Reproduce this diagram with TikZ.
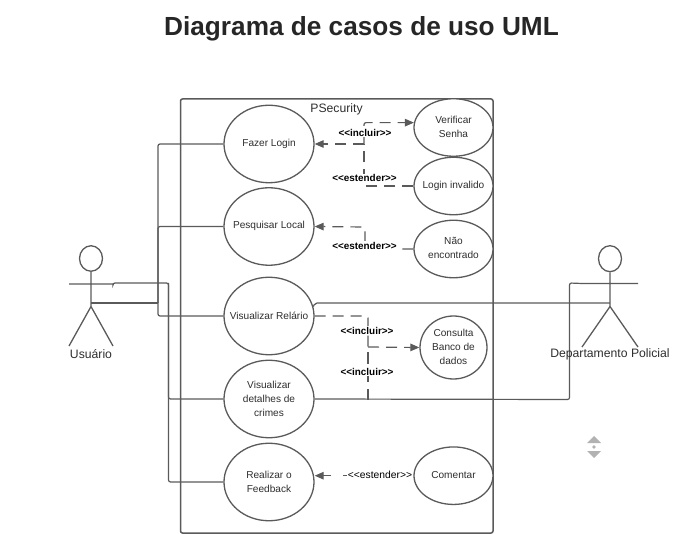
\documentclass[tikz,border=0pt]{standalone}
\usepackage{fontspec}
\setmainfont{Liberation Sans}
\usetikzlibrary{arrows.meta,shapes.geometric}
\definecolor{ln}{HTML}{5A5A5A}
\definecolor{tx}{HTML}{2E2E2E}
\tikzset{
  x=1pt,y=-1pt,
  wire/.style={draw=ln,line width=1.2pt,rounded corners=2pt},
  dep/.style={wire,dash pattern=on 11pt off 7pt},
  tipped/.style={-{Triangle[length=9pt,width=7.5pt,fill=ln]}},
  uc/.style={ellipse,draw=ln,line width=1.3pt,fill=white,inner sep=0pt},
  uctext/.style={inner sep=0pt,align=center,yshift=.6pt,font=\fontsize{10.1}{14}\selectfont,text=tx},
  bigcase/.style={uc,minimum width=90pt,minimum height=77.5pt},
  smallcase/.style={uc,minimum width=79pt,minimum height=57.5pt},
  bancocase/.style={uc,minimum width=67pt,minimum height=63pt},
  stereo/.style={fill=white,inner sep=.6pt,text=black,font=\fontsize{9.9}{11}\selectfont\bfseries},
  lbl/.style={text=tx,inner sep=0pt,font=\fontsize{12.2}{14}\selectfont},
  limb/.style={draw=ln,line width=1.3pt}
}
\newcommand\ucnode[4]{\node[#1] (#2) at #3 {}; \node[uctext] (#2t) at (#2.center) {#4};}
\begin{document}
\begin{tikzpicture}
\useasboundingbox (0,0) rectangle (685,534);
\node[font=\fontsize{26.2}{28}\selectfont\bfseries,text=black!85] (title) at (361.5,28.5) {Diagrama de casos de uso UML};
\draw[draw=ln,line width=1.5pt,rounded corners=2pt] (180.5,99) rectangle (493,533);
\node[lbl] (sys) at (336.5,109.5) {PSecurity};
% actors
\coordinate (lhip) at (91,306.5);
\coordinate (larmL) at (69,284); \coordinate (larmR) at (113,284);
\coordinate (lfootL) at (69,346); \coordinate (lfootR) at (113,346);
\coordinate (lwaist) at (91,303);
\node[ellipse,draw=ln,line width=1.3pt,minimum width=23pt,minimum height=25.5pt,inner sep=0pt] (lhead) at (91,258.5) {};
\draw[limb] (lhead.south) -- (lhip) (larmL) -- (larmR) (lfootL) -- (lhip) -- (lfootR);
\node[lbl] (usuario) at (91,354) {Usuário};
\coordinate (rhip) at (610,306.5);
\coordinate (rarmL) at (582,283.5); \coordinate (rarmR) at (638,283.5);
\coordinate (rfootL) at (582,347); \coordinate (rfootR) at (638,347);
\coordinate (rwaist) at (610,303);
\node[ellipse,draw=ln,line width=1.3pt,minimum width=23pt,minimum height=26pt,inner sep=0pt] (rhead) at (610,258.7) {};
\draw[limb] (rhead.south) -- (rhip) (rarmL) -- (rarmR) (rfootL) -- (rhip) -- (rfootR);
% use cases
\ucnode{bigcase}{fazer}{(269,144)}{Fazer Login}
\ucnode{bigcase}{pesq}{(269,226.5)}{Pesquisar Local}
\ucnode{bigcase}{rel}{(269,316)}{Visualizar Relário}
\ucnode{bigcase}{det}{(269,399)}{Visualizar\\detalhes de\\crimes}
\ucnode{bigcase}{feed}{(269,482)}{Realizar o\\Feedback}
\ucnode{smallcase}{verif}{(453.5,127.5)}{Verificar\\Senha}
\ucnode{smallcase}{inval}{(453.5,186)}{Login invalido}
\ucnode{smallcase}{nao}{(453.5,249)}{Não\\encontrado}
\ucnode{bancocase}{banco}{(453.5,347.5)}{Consulta\\Banco de\\dados}
\ucnode{smallcase}{coment}{(453.5,475.7)}{Comentar}
% associations
\coordinate (lb) at (158,303);
\coordinate (lc) at (168.5,283);
\draw[wire] (lwaist) -- (lb);
\draw[wire] (fazer.west) -| (lb);
\draw[wire] (pesq.west) -- (158,226.5) -- (lb);
\draw[wire] (rel.west) -| (lb);
\draw[wire] (larmR) -- (113,283) -- (lc) |- (det.west);
\draw[wire] (lc) |- (feed.west);
\draw[wire] (rel.12) -- (315,303) -- (rwaist);
\draw[wire] (det.east) -- (569.5,399.5) -- (569.5,283) -- (rarmL);
% dependencies
\coordinate (j1) at (364,144);
\coordinate (j2) at (368,347);
\coordinate (j3) at (368,399.5);
\draw[dep] (inval.west) -| (j1);
\draw[dep,tipped] (j1) -- (fazer.east);
\draw[dep,tipped] (j1) |- (verif.173);
\draw[dep,tipped] (nao.west) -- (365,249) -- (365,227) -- (pesq.east);
\draw[dep] (rel.east) -| (j2);
\draw[dep] (j3) -- (j2);
\draw[dep,tipped] (j2) -- (banco.west);
\draw[dep,tipped,dash pattern=on 11pt off 12pt,dash phase=10pt] (coment.west) -- (feed.east |- coment.west);
% stereotypes
\node[stereo] (s1) at (365,132.5) {<{}<incluir>{}>};
\node[stereo] (s2) at (364.5,178) {<{}<estender>{}>};
\node[stereo] (s3) at (364.5,245.5) {<{}<estender>{}>};
\node[stereo] (s4) at (367,330.5) {<{}<incluir>{}>};
\node[stereo] (s5) at (367,372) {<{}<incluir>{}>};
\node[stereo,font=\fontsize{10.3}{11}\selectfont] (s6) at (380,474.5) {<{}<estender>{}>};
\node[lbl] (depto) at (610,354.5) {Departamento Policial};
% scroll glyph
\fill[black!30] (594,436) -- (601,443) -- (587,443) -- cycle;
\fill[black!30] (594,458) -- (601,451) -- (587,451) -- cycle;
\fill[black!30] (594,447) circle (1.8pt);
\end{tikzpicture}
\end{document}
